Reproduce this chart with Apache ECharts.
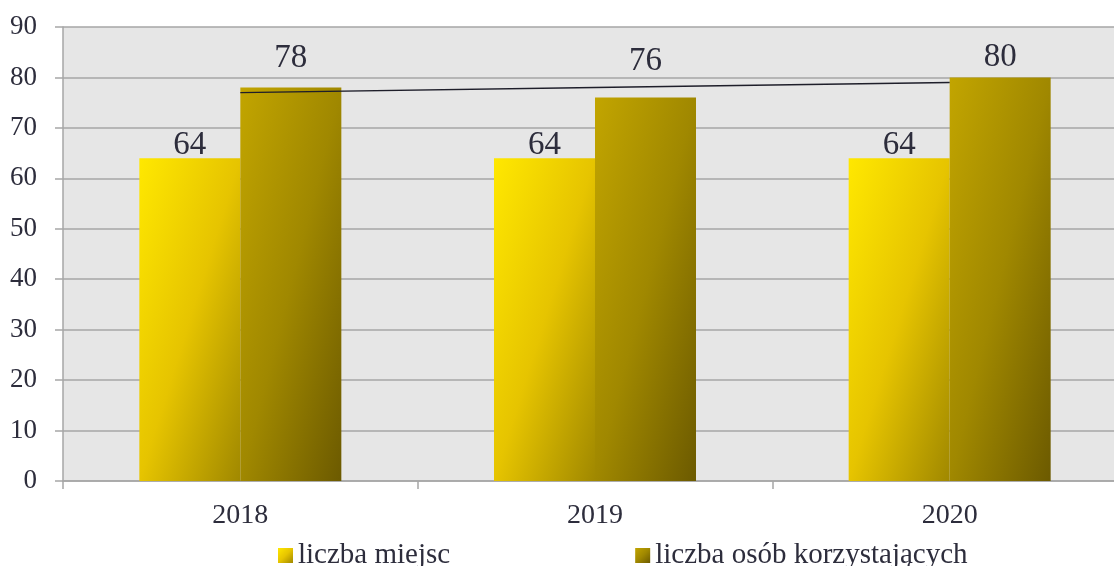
<!DOCTYPE html>
<html>
<head>
<meta charset="utf-8">
<script src="https://cdn.jsdelivr.net/npm/echarts@6/dist/echarts.min.js"></script>
<style>
    html, body { margin: 0; padding: 0; background: #fff; }
    #chart { width: 1114px; height: 566px; }
</style>
</head>
<body>
<div id="chart"></div>
<script>
// dane z wykresu
const lata = ['2018', '2019', '2020'];
const liczbaMiejsc = [64, 64, 64];
const liczbaOsob = [78, 76, 80];
const trendOsob = [77, 78, 79];
const yTicks = [0, 90, 10]; // min, max, interval

const textColor = '#2d2d3c';
const fontName = 'Liberation Serif';

const gridH = 454;
const barW = 101;

const kolory1 = ['#ffe800', '#e6c400', '#a08800'];
const kolory2 = ['#c2a500', '#a08800', '#6c5a00'];

// gradient po przekatnej (izolinie od prawego-gornego do lewego-dolnego rogu)
function gradient(c, w, h) {
    var x2 = 1, y2 = 1;
    if (w && h) {
        x2 = 2 * h * h / (h * h + w * w);
        y2 = 2 * w * w / (h * h + w * w);
    }
    return new echarts.graphic.LinearGradient(0, 0, x2, y2, [
        { offset: 0, color: c[0] },
        { offset: 0.5, color: c[1] },
        { offset: 1, color: c[2] }
    ]);
}

function barData(values, colors, dist) {
    return values.map((v, i) => {
        var item = {
            value: v,
            itemStyle: { color: gradient(colors, barW, v / yTicks[1] * gridH) }
        };
        if (dist) item.label = { distance: dist[i] };
        return item;
    });
}

// odstep etykiety od slupka (przesuniete recznie jak w oryginale)
const labelDist1 = [-4, -4, -4];
const labelDist2 = [13, 20, 4];

var chart = echarts.init(document.getElementById('chart'));

var option = {
    animation: false,
    textStyle: { fontFamily: fontName },
    grid: {
        left: 63,
        top: 27,
        width: 1064,
        height: gridH,
        outerBoundsMode: 'none',
        show: true,
        backgroundColor: '#e6e6e6',
        borderWidth: 0
    },
    legend: {
        data: ['liczba miejsc', 'liczba osób korzystających'],
        left: 278,
        top: 541,
        padding: 0,
        itemWidth: 15,
        itemHeight: 15,
        itemGap: 185,
        icon: 'rect',
        textStyle: { fontSize: 29, color: textColor, fontFamily: fontName }
    },
    xAxis: {
        type: 'category',
        data: lata,
        axisLine: { lineStyle: { color: '#a6a6a6', width: 1.5 } },
        axisTick: { show: true, length: 8, lineStyle: { color: '#a6a6a6', width: 1.5 } },
        axisLabel: { fontSize: 28, color: textColor, margin: 21, fontFamily: fontName }
    },
    yAxis: {
        type: 'value',
        min: yTicks[0],
        max: yTicks[1],
        interval: yTicks[2],
        axisLine: { show: true, lineStyle: { color: '#a6a6a6', width: 1.5 } },
        axisTick: { show: true, length: 8, lineStyle: { color: '#a6a6a6', width: 1.5 } },
        splitLine: { lineStyle: { color: '#a6a6a6', width: 1.5 } },
        axisLabel: { fontSize: 27, color: textColor, margin: 26, fontFamily: fontName }
    },
    series: [
        {
            name: 'liczba miejsc',
            type: 'bar',
            barWidth: barW,
            barGap: '0%',
            data: barData(liczbaMiejsc, kolory1, labelDist1),
            itemStyle: { color: gradient(kolory1) },
            label: {
                show: true,
                position: 'top',
                fontSize: 33,
                color: textColor,
                fontFamily: fontName
            }
        },
        {
            name: 'liczba osób korzystających',
            type: 'bar',
            barWidth: barW,
            barGap: '0%',
            data: barData(liczbaOsob, kolory2, labelDist2),
            itemStyle: { color: gradient(kolory2) },
            label: {
                show: true,
                position: 'top',
                fontSize: 33,
                color: textColor,
                fontFamily: fontName
            }
        },
        {
            name: 'trend',
            type: 'line',
            data: trendOsob,
            symbol: 'none',
            silent: true,
            z: 5,
            lineStyle: { color: '#1e1e2a', width: 1.4 }
        }
    ]
};

chart.setOption(option);
</script>
</body>
</html>
